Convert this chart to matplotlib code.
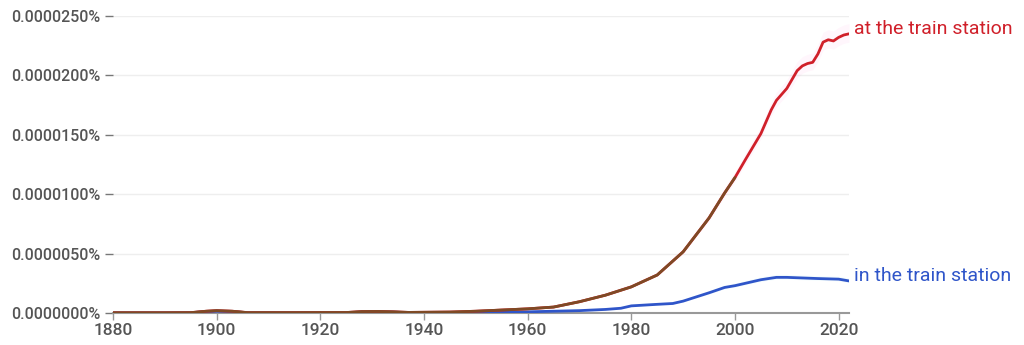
import numpy as np
import matplotlib
matplotlib.use("Agg")
import matplotlib.pyplot as plt
from matplotlib.ticker import FuncFormatter

plt.rcParams['font.family'] = ['Roboto', 'DejaVu Sans']

# values in units of 0.000001 %
at_years = [1880, 1890, 1895, 1898, 1900, 1903, 1906, 1915, 1925, 1928, 1931, 1934,
            1937, 1945, 1950, 1955, 1960, 1965, 1970, 1975, 1980, 1985, 1990, 1995,
            1998, 2000, 2002, 2005, 2007, 2008, 2010, 2012, 2013, 2014, 2015, 2016,
            2017, 2018, 2019, 2020, 2021, 2022]
at_vals = [0.02, 0.02, 0.03, 0.15, 0.2, 0.15, 0.03, 0.03, 0.04, 0.12, 0.13, 0.1,
           0.05, 0.08, 0.15, 0.25, 0.35, 0.5, 0.95, 1.5, 2.2, 3.2, 5.15, 8.0,
           10.1, 11.4, 12.9, 15.1, 17.1, 17.9, 18.9, 20.4, 20.8, 21.0, 21.1, 21.8,
           22.8, 23.0, 22.9, 23.2, 23.4, 23.5]

in_years = [1880, 1890, 1895, 1898, 1900, 1903, 1906, 1915, 1925, 1928, 1931, 1934,
            1937, 1945, 1950, 1955, 1960, 1965, 1970, 1975, 1978, 1980, 1985, 1988,
            1990, 1995, 1998, 2000, 2003, 2005, 2008, 2010, 2013, 2016, 2020, 2022]
in_vals = [0.01, 0.01, 0.02, 0.12, 0.15, 0.12, 0.02, 0.01, 0.02, 0.08, 0.1, 0.08,
           0.02, 0.03, 0.05, 0.08, 0.1, 0.15, 0.2, 0.3, 0.4, 0.6, 0.73, 0.8,
           1.0, 1.7, 2.15, 2.3, 2.6, 2.8, 3.0, 3.0, 2.95, 2.9, 2.85, 2.7]

labels = ["at the train station", "in the train station"]
yticks = [0, 5, 10, 15, 20, 25]
xticks = [1880, 1900, 1920, 1940, 1960, 1980, 2000, 2020]

red = "#d0202a"
brown = "#7e4a25"
blue = "#2f55c9"

at_x = np.array(at_years)
at_y = np.array(at_vals) * 1e-6
in_x = np.array(in_years)
in_y = np.array(in_vals) * 1e-6

fig = plt.figure(figsize=(10.24, 3.45), dpi=100)
ax = fig.add_axes([113 / 1024, 32 / 345, (849 - 113) / 1024, (313 - 16) / 345])

# faint bands around the lines
ax.fill_between(at_x, at_y * 0.97, at_y * 1.03 + 0.15e-6, color="#ff66cc", alpha=0.06, lw=0)
ax.fill_between(in_x, in_y * 0.95, in_y * 1.05 + 0.1e-6, color="#66ddee", alpha=0.08, lw=0)

ax.plot(in_x, in_y, color=blue, lw=2, solid_capstyle="round", zorder=3)
ax.plot(at_x, at_y, color=red, lw=2, solid_capstyle="round", zorder=4)
early = at_x <= 2000
ax.plot(at_x[early], at_y[early], color=brown, lw=2, solid_capstyle="round", zorder=5)

ax.set_xlim(1880, 2022)
ax.set_ylim(0, 25e-6)
ax.set_yticks([v * 1e-6 for v in yticks])
ax.yaxis.set_major_formatter(FuncFormatter(lambda v, p: f"{v:.7f}%"))
ax.set_xticks(xticks)

ax.grid(axis="y", color="#eeeeee", lw=1)
ax.set_axisbelow(True)
for s in ["top", "right", "left"]:
    ax.spines[s].set_visible(False)
ax.spines["bottom"].set_color("#999999")
ax.spines["bottom"].set_linewidth(1.5)

ax.tick_params(axis="y", length=6, width=1, color="#777777", pad=3,
               labelsize=11.5, labelcolor="#555555")
ax.tick_params(axis="x", length=5, width=1, color="#999999", pad=2,
               labelsize=12.5, labelcolor="#555555")
for t in ax.get_xticklabels() + ax.get_yticklabels():
    t.set_fontweight("medium")

ax.text(2023, at_y[-1] + 0.4e-6, labels[0], color=red, fontsize=14, va="center",
        ha="left", clip_on=False)
ax.text(2023, in_y[-1] + 0.4e-6, labels[1], color=blue, fontsize=14, va="center",
        ha="left", clip_on=False)

fig.savefig("out.png", dpi=100)
